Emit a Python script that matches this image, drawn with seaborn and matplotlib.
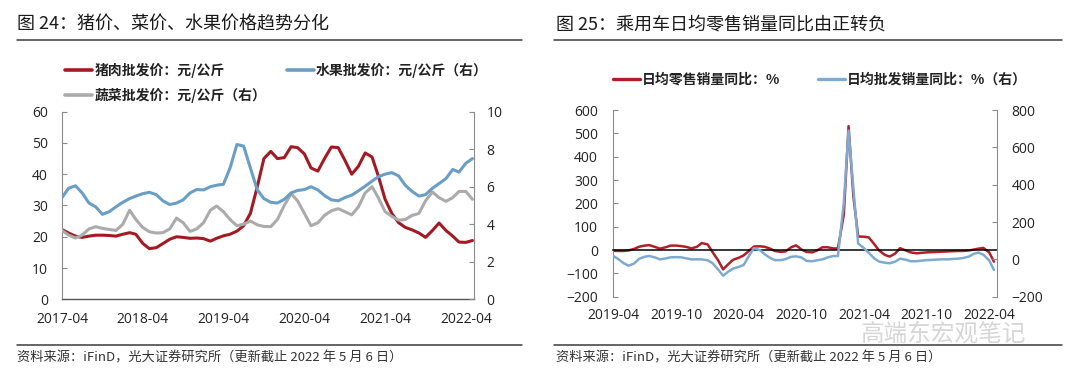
import pandas as pd
import seaborn as sns
import matplotlib
matplotlib.use('Agg')
import matplotlib.pyplot as plt
from matplotlib.lines import Line2D
from matplotlib.font_manager import FontProperties

# --- 图24 数据：月度，2017-04 ~ 2022-05 ---
months_a = pd.date_range('2017-04-01', '2022-05-01', freq='MS')
pork = [22.3, 21.2, 20.2, 19.8, 20.2, 20.5, 20.5, 20.4, 20.2, 20.8,
        21.3, 20.8, 17.9, 16.2, 16.5, 17.8, 19.2, 20.0, 19.8, 19.5,
        19.6, 19.4, 18.6, 19.5, 20.3, 20.8, 21.8, 23.5, 27.5, 36.0,
        45.0, 47.3, 45.0, 45.3, 48.8, 48.5, 46.5, 42.0, 41.0, 45.0,
        48.7, 48.5, 44.5, 40.0, 42.5, 46.8, 45.5, 39.5, 32.0, 27.5,
        24.5, 23.0, 22.2, 21.2, 19.8, 22.0, 24.4, 22.0, 20.2, 18.3,
        18.2, 18.8]
fruit = [5.42, 5.92, 6.05, 5.67, 5.13, 4.92, 4.53, 4.67, 4.93, 5.17,
         5.37, 5.50, 5.63, 5.70, 5.58, 5.25, 5.05, 5.13, 5.30, 5.67,
         5.85, 5.83, 6.00, 6.08, 6.13, 7.00, 8.25, 8.17, 7.00, 5.83,
         5.37, 5.17, 5.13, 5.33, 5.67, 5.80, 5.85, 6.00, 5.83, 5.53,
         5.30, 5.25, 5.42, 5.55, 5.78, 6.03, 6.30, 6.53, 6.67, 6.75,
         6.58, 6.08, 5.75, 5.50, 5.58, 5.92, 6.17, 6.43, 6.92, 6.78,
         7.25, 7.50]
veg = [3.67, 3.42, 3.27, 3.42, 3.75, 3.87, 3.78, 3.72, 3.67, 4.00,
       4.75, 4.25, 3.83, 3.60, 3.53, 3.55, 3.75, 4.33, 4.08, 3.62,
       3.75, 4.08, 4.75, 4.97, 4.67, 4.25, 3.92, 4.00, 4.17, 3.97,
       3.88, 3.87, 4.25, 5.00, 5.63, 5.25, 4.58, 3.92, 4.08, 4.47,
       4.72, 4.83, 4.67, 4.50, 4.92, 5.67, 6.00, 5.42, 4.67, 4.42,
       4.22, 4.25, 4.47, 4.58, 5.25, 5.72, 5.42, 5.22, 5.42, 5.75,
       5.75, 5.33]
ticks_a = pd.date_range('2017-04-01', '2022-04-01', freq='12MS')
tick_labels_a = ['2017-04', '2018-04', '2019-04', '2020-04', '2021-04', '2022-04']

# --- 图25 数据：半月，2019-04 ~ 2022-04 ---
weeks_b = pd.date_range('2019-04-01', periods=74, freq='SMS')
retail = [-3, -4, -4, -2, 5, 14, 19, 21, 13, 6,
          12, 19, 19, 17, 13, 7, 14, 30, 24, -8,
          -45, -83, -61, -42, -33, -23, -3, 15, 16, 14,
          6, -4, -8, -6, 12, 20, 2, -8, -10, -2,
          12, 12, 7, 7, 150, 531, 230, 58, 57, 54,
          25, -2, -21, -28, -15, 8, -2, -10, -14, -12,
          -10, -9, -8, -7, -6, -5, -4, -4, -2, 2,
          6, 9, -10, -50]
wholesale = [18, 2, -20, -34, -22, 3, 14, 18, 10, 0,
             5, 11, 12, 11, 5, 0, 0, 0, -5, -20,
             -55, -87, -66, -50, -40, -30, 20, 60, 50, 28,
             8, -4, -4, 1, 14, 16, 10, -8, -10, -5,
             0, 10, 18, 18, 300, 690, 380, 85, 60, 35,
             5, -12, -18, -21, -12, 4, -2, -10, -10, -7,
             -4, -3, -1, 0, 0, 2, 4, 7, 15, 30,
             36, 25, -5, -57]
ticks_b = pd.date_range('2019-04-01', '2022-04-01', freq='6MS')
tick_labels_b = ['2019-04', '2019-10', '2020-04', '2020-10', '2021-04', '2021-10', '2022-04']

# --- 样式 ---
sns.set_theme(style='white')
plt.rcParams['font.family'] = ['Open Sans', 'Noto Sans CJK SC', 'DejaVu Sans']
CJK = ['Noto Sans CJK SC', 'DejaVu Sans']
RED_A, BLUE_A, GRAY_A = '#A31A22', '#6A9EC4', '#ABABAB'
RED_B, BLUE_B = '#B01F28', '#7FAAD0'
TXT = '#222222'
SPINE = '#8C8C8C'

fig = plt.figure(figsize=(10.8, 3.76), dpi=100)


def style_y(ax, side, pad):
    ax.tick_params(axis='y', direction='in', length=3.5, width=0.8, color=SPINE,
                   labelsize=10, labelcolor=TXT, pad=pad)
    for s in ['top', 'left', 'right', 'bottom']:
        ax.spines[s].set_visible(False)
    ax.spines[side].set_visible(True)
    ax.spines[side].set_color(SPINE)
    ax.spines[side].set_linewidth(0.8)


# ===== 左图 =====
ax = fig.add_axes([0.0574, 0.204, 0.3815, 0.499])
ax2 = ax.twinx()
sns.lineplot(x=months_a, y=pork, ax=ax, color=RED_A, linewidth=2.2, legend=False)
sns.lineplot(x=months_a, y=veg, ax=ax2, color=GRAY_A, linewidth=2.2, legend=False)
sns.lineplot(x=months_a, y=fruit, ax=ax2, color=BLUE_A, linewidth=2.2, legend=False)
ax.set_ylim(0, 60)
ax.set_yticks(range(0, 61, 10))
ax2.set_ylim(0, 10)
ax2.set_yticks(range(0, 11, 2))
ax.set_xlim(pd.Timestamp('2017-04-01'), pd.Timestamp('2022-05-08'))
ax.set_xticks(ticks_a)
ax.set_xticklabels(tick_labels_a)
style_y(ax, 'left', 10)
style_y(ax2, 'right', 9)
ax.spines['bottom'].set_visible(True)
ax.spines['bottom'].set_color('#555555')
ax.spines['bottom'].set_linewidth(1.0)
ax.tick_params(axis='x', direction='out', length=4, width=1, color='#555555',
               labelsize=10, labelcolor=TXT, pad=5)
for a in (ax, ax2):
    a.set_xlabel('')
    a.set_ylabel('')

fig.legend([Line2D([], [], color=RED_A, lw=2.6), Line2D([], [], color=GRAY_A, lw=2.6),
            Line2D([], [], color=BLUE_A, lw=2.6)],
           ['猪肉批发价：元/公斤', '蔬菜批发价：元/公斤（右）', '水果批发价：元/公斤（右）'],
           ncol=2, loc='upper left', bbox_to_anchor=(0.0602, 0.833), bbox_transform=fig.transFigure,
           frameon=False, prop=FontProperties(family=CJK, size=10, weight='bold'),
           handlelength=1.95, handletextpad=0.15, columnspacing=1.5, labelspacing=0.7,
           borderpad=0, borderaxespad=0, labelcolor=TXT)

# ===== 右图 =====
bx = fig.add_axes([0.5679, 0.2109, 0.3553, 0.4965])
bx2 = bx.twinx()
sns.lineplot(x=weeks_b, y=retail, ax=bx, color=RED_B, linewidth=1.8, legend=False)
sns.lineplot(x=weeks_b, y=wholesale, ax=bx2, color=BLUE_B, linewidth=1.8, legend=False)
bx.set_ylim(-200, 600)
bx.set_yticks(range(-200, 601, 100))
bx2.set_ylim(-200, 800)
bx2.set_yticks(range(-200, 801, 200))
bx.set_xlim(pd.Timestamp('2019-04-01'), pd.Timestamp('2022-04-24'))
bx.set_xticks(ticks_b)
bx.set_xticklabels(tick_labels_b)
style_y(bx, 'left', 11)
style_y(bx2, 'right', 10.5)
# 零轴：带刻度的横轴
bx.spines['bottom'].set_visible(True)
bx.spines['bottom'].set_position(('data', 0))
bx.spines['bottom'].set_color('black')
bx.spines['bottom'].set_linewidth(1.1)
bx.tick_params(axis='x', direction='out', length=4, width=1, color='black', labelbottom=False)
# 日期标签放在底部
bx2.xaxis.set_visible(True)
bx2.tick_params(axis='x', length=0, labelbottom=True, labelsize=10, labelcolor=TXT, pad=8)
for a in (bx, bx2):
    a.set_xlabel('')
    a.set_ylabel('')

fig.legend([Line2D([], [], color=RED_B, lw=2.4), Line2D([], [], color=BLUE_B, lw=2.4)],
           ['日均零售销量同比：%', '日均批发销量同比：%（右）'],
           ncol=2, loc='upper left', bbox_to_anchor=(0.5676, 0.806), bbox_transform=fig.transFigure,
           frameon=False, prop=FontProperties(family=CJK, size=10, weight='bold'),
           handlelength=1.95, handletextpad=0.15, columnspacing=2.7,
           borderpad=0, borderaxespad=0, labelcolor=TXT)

# ===== 标题、分隔线、来源 =====
fig.text(0.0157, 0.936, '图 24：猪价、菜价、水果价格趋势分化', family=CJK, fontsize=13,
         color='#1a1a1a', va='center', ha='left')
fig.text(0.5150, 0.936, '图 25：乘用车日均零售销量同比由正转负', family=CJK, fontsize=13,
         color='#1a1a1a', va='center', ha='left')
for x0, x1 in [(0.0154, 0.4833), (0.5130, 0.9835)]:
    fig.add_artist(Line2D([x0, x1], [0.8936, 0.8936], transform=fig.transFigure,
                          color='#3a3a3a', lw=1.1))
    fig.add_artist(Line2D([x0, x1], [0.0824, 0.0824], transform=fig.transFigure,
                          color='#3a3a3a', lw=1.1))
src = '资料来源：iFinD，光大证券研究所（更新截止 2022 年 5 月 6 日）'
fig.text(0.0157, 0.048, src, family=CJK, fontsize=9.5, color='#333333', va='center')
fig.text(0.5150, 0.048, src, family=CJK, fontsize=9.5, color='#333333', va='center')

# 水印
fig.text(0.797, 0.141, '高端东宏观笔记', family=CJK, fontsize=17, color='#d2d2d2',
         va='top', ha='left', alpha=0.9)

fig.savefig('out.png', dpi=100)
